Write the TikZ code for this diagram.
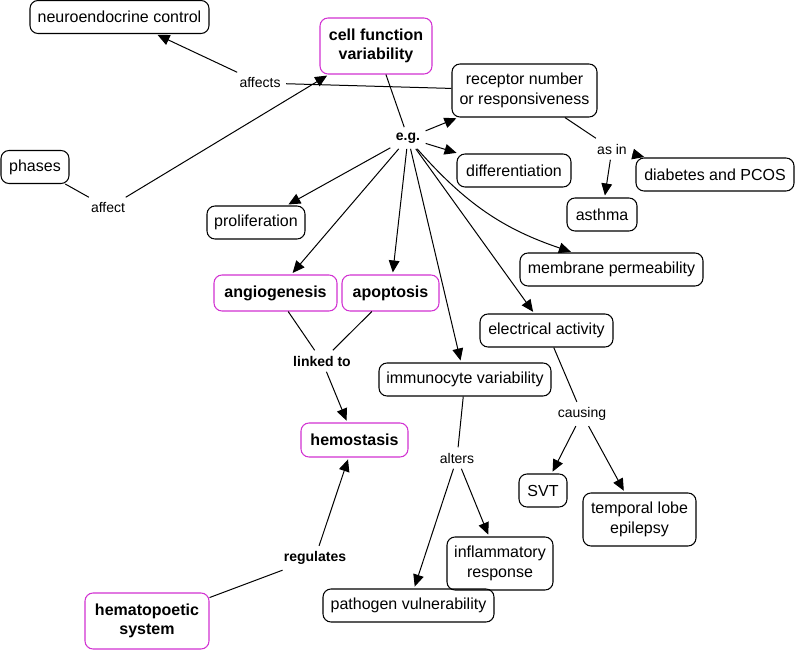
\documentclass[tikz,border=0pt]{standalone}
\usepackage{fontspec}
\setmainfont{Liberation Sans}
\usetikzlibrary{arrows.meta}
\definecolor{mag}{RGB}{210,50,210}
\begin{document}
\begin{tikzpicture}[x=0.75pt,y=-0.75pt,
 box/.style={draw, rounded corners=6pt, line width=0.8pt, font=\fontsize{12}{14.5}\selectfont, align=center, inner sep=0pt, minimum height=24.75pt},
 key/.style={box, draw=mag, font=\fontsize{12}{14.5}\selectfont\bfseries},
 lab/.style={font=\fontsize{10.5}{12}\selectfont, inner sep=4pt},
 blab/.style={lab, font=\fontsize{10.5}{12}\selectfont\bfseries},
 conn/.style={line width=0.75pt},
 arr/.style={conn, -{Triangle[length=9pt,width=8pt]}, shorten >=1.5pt},
]
\fill[white] (0,0) rectangle (796,652);
\useasboundingbox (0,0) rectangle (796,652);

\node[box, minimum width=134.25pt] (neuro) at (119.5,17) {neuroendocrine control};
\node[key, minimum width=84pt, minimum height=42pt] (cfv) at (376,46) {cell function\\variability};
\node[box, minimum width=108.75pt, minimum height=39.75pt] (rec) at (524.5,90.5) {receptor number\\or responsiveness};
\node[blab] (eg) at (408,138) {e.g.};
\node[box, minimum width=85.5pt] (diff) at (514,170.5) {differentiation};
\node[box, minimum width=118.5pt] (diab) at (715,174.5) {diabetes and PCOS};
\node[box, minimum width=52.5pt] (asth) at (602,214.5) {asthma};
\node[lab] (asin) at (612,149) {as in};
\node[box, minimum width=137.25pt] (memb) at (611.5,269.5) {membrane permeability};
\node[box, minimum width=51pt] (phases) at (35,167) {phases};
\node[lab] (affect) at (108,208) {affect};
\node[lab] (affects) at (260,83) {affects};
\node[box, minimum width=73.5pt] (prol) at (256,222.5) {proliferation};
\node[key, minimum width=92.25pt, minimum height=27pt] (angio) at (275.5,293) {angiogenesis};
\node[key, minimum width=72.75pt, minimum height=27pt] (apop) at (390.5,293) {apoptosis};
\node[blab] (linked) at (322,361) {linked to};
\node[key, minimum width=80.25pt, minimum height=25.5pt] (hemo) at (354.5,440) {hemostasis};
\node[box, minimum width=129pt] (immu) at (465,379.5) {immunocyte variability};
\node[box, minimum width=99.75pt] (elec) at (546.5,330.5) {electrical activity};
\node[lab] (causing) at (582,414) {causing};
\node[lab] (alters) at (457,458) {alters};
\node[box, minimum width=36pt] (svt) at (543,490.5) {SVT};
\node[box, minimum width=84.75pt, minimum height=39.75pt] (temp) at (639.5,519.5) {temporal lobe\\epilepsy};
\node[box, minimum width=79.5pt, minimum height=39.75pt] (infl) at (500,563.5) {inflammatory\\response};
\node[box, minimum width=128.25pt] (path) at (408.5,605.5) {pathogen vulnerability};
\node[key, minimum width=93pt, minimum height=42pt] (hema) at (147,621) {hematopoetic\\system};
\node[blab] (reg) at (315,558) {regulates};

\draw[conn] (cfv) -- (eg);
\draw[arr] (eg) -- (rec);
\draw[arr] (eg) -- (diff);
\draw[arr] (eg) -- (prol);
\draw[arr] (eg) -- (angio);
\draw[arr] (eg) -- (apop);
\draw[arr] (eg) -- (immu);
\draw[arr] (eg) -- (elec);
\draw[arr] (eg) to[bend right=15] ([xshift=-29pt]memb.north);
\draw[conn] (rec) -- (asin);
\draw[arr] (asin) -- (diab);
\draw[arr] (asin) -- (asth);
\draw[conn] (phases) -- (affect);
\draw[arr] (affect) -- (cfv);
\draw[conn] (rec) -- (affects);
\draw[arr] (affects) -- (neuro);
\draw[conn] (angio) -- (linked);
\draw[conn] (apop) -- (linked);
\draw[arr] (linked) -- (hemo);
\draw[conn] (hema) -- (reg);
\draw[arr] (reg) -- (hemo);
\draw[conn] (immu) -- (alters);
\draw[arr] (alters) -- (path);
\draw[arr] (alters) -- (infl);
\draw[conn] (elec) -- (causing);
\draw[arr] (causing) -- (svt);
\draw[arr] (causing) -- (temp);
\end{tikzpicture}
\end{document}
